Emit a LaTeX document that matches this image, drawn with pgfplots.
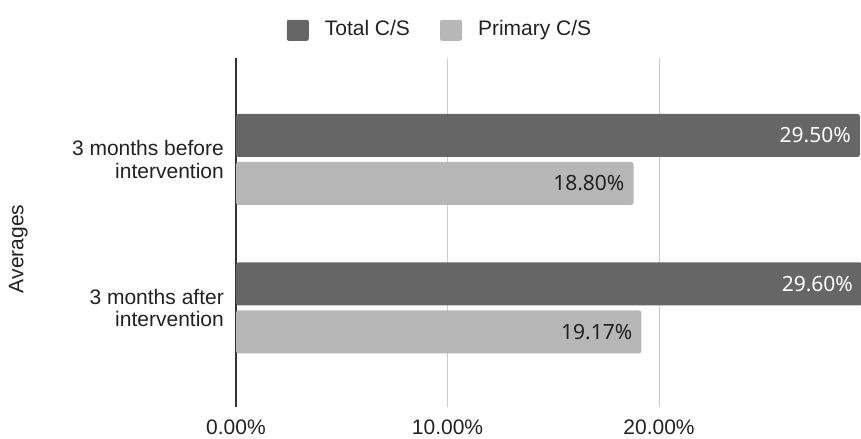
\documentclass[border=0pt]{standalone}
\usepackage{pgfplots}
\pgfplotsset{compat=1.18}
\usepackage{fontspec}
\setmainfont{Liberation Sans}
\newfontfamily\valuefont{Noto Sans}
\newcommand\chartfont{\fontsize{21bp}{22.5bp}\selectfont}
\newcommand\valuesize{\valuefont\fontsize{21bp}{24bp}\selectfont}
\definecolor{totalcs}{HTML}{666666}
\definecolor{primarycs}{HTML}{B7B7B7}
\definecolor{gridgray}{HTML}{CCCCCC}
\definecolor{axisdark}{HTML}{333333}
\definecolor{textdark}{HTML}{222222}

\begin{document}
\begin{tikzpicture}
\begin{axis}[
  at={(236bp,-407bp)}, anchor=south west,
  scale only axis, width=626.5bp, height=349bp,
  xbar, bar width=0.29,
  xmin=0, xmax=29.62,
  ymin=-0.683, ymax=1.667, y dir=reverse,
  axis line style={draw=none},
  major tick length=0pt,
  xtick={0,10,20},
  xticklabel={\pgfmathprintnumber[fixed,fixed zerofill,precision=2]{\tick}\%},
  /pgf/number format/assume math mode=true,
  xticklabel style={font=\chartfont, text=textdark, anchor=north, inner sep=0pt, yshift=-13bp},
  xmajorgrids,
  grid style={gridgray, line width=0.8bp},
  extra x ticks={0},
  extra x tick labels={},
  extra x tick style={grid style={axisdark, line width=1.5bp}},
  ytick={0,1},
  yticklabels={{3 months before\\intervention},{3 months after\\intervention}},
  yticklabel style={font=\chartfont, text=textdark, align=right, anchor=east, inner sep=0pt, xshift=-12bp},
  ylabel={Averages},
  ylabel style={font=\chartfont, text=textdark, at={(axis description cs:-0.3475,0.453)}, anchor=center},
  legend columns=2,
  legend style={at={(axis description cs:0.3240,1)}, anchor=south, yshift=17bp,
    draw=none, fill=none, inner sep=0pt, font=\chartfont, text=textdark,
    nodes={inner sep=0pt, anchor=base west},
    /tikz/every odd column/.append style={column sep=16bp},
    /tikz/every even column/.append style={column sep=30bp}},
  legend image code/.code={\fill[#1, draw=none, rounded corners=2bp] (0bp,-5bp) rectangle (22bp,16bp);},
  point meta=x,
  nodes near coords={\pgfmathprintnumber[fixed,fixed zerofill,precision=2]{\pgfplotspointmeta}\%},
]
% Total C/S, one bar per period
\addplot[bar shift=-0.1616, fill=totalcs, draw=none, rounded corners=2.5bp,
  every node near coord/.append style={font=\valuesize, text=white, anchor=east, inner sep=0pt, xshift=-9bp}]
  coordinates {(29.5,0) (29.6,1)};
\addlegendentry{Total C/S}
% Primary C/S
\addplot[bar shift=0.1616, fill=primarycs, draw=none, rounded corners=2.5bp,
  every node near coord/.append style={font=\valuesize, text=textdark, anchor=east, inner sep=0pt, xshift=-9bp}]
  coordinates {(18.8,0) (19.17,1)};
\addlegendentry{Primary C/S}
\end{axis}
\pgfresetboundingbox
\path[use as bounding box] (0,0) rectangle (861bp,-439bp);
\end{tikzpicture}
\end{document}
